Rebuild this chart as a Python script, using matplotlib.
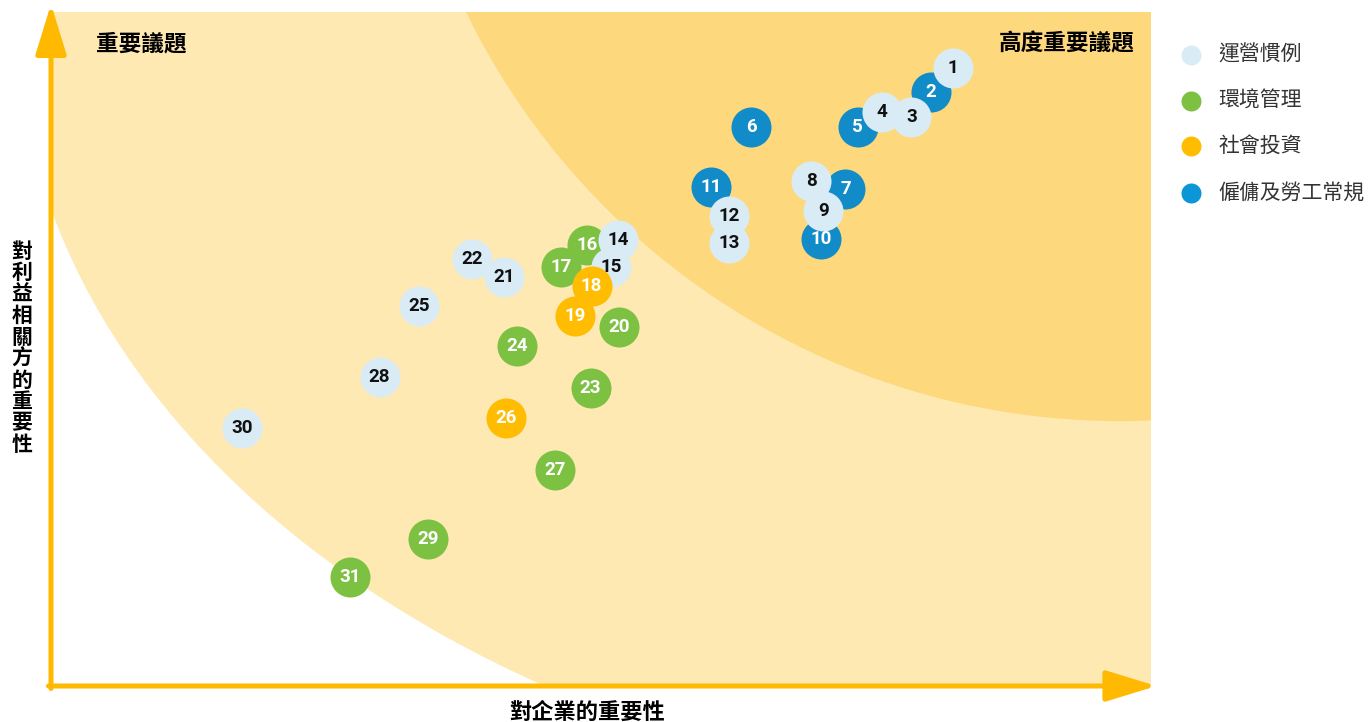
import matplotlib
matplotlib.use('Agg')
import matplotlib.pyplot as plt
from matplotlib.patches import Ellipse

plt.rcParams['font.family'] = ['Noto Sans CJK TC', 'DejaVu Sans']

# materiality topics: importance to business (x) and to stakeholders (y), 0-100
topics = list(range(1, 32))
biz = [82.0, 80.0, 78.2, 75.5, 73.3, 63.6, 72.2, 69.1, 70.2, 70.0,
       60.0, 61.6, 61.6, 51.5, 50.9, 48.7, 46.3, 49.1, 47.6, 51.6,
       41.1, 38.2, 49.0, 42.3, 33.4, 41.3, 45.8, 29.8, 34.2, 17.3, 27.1]
stake = [91.7, 88.1, 84.4, 85.2, 82.9, 82.9, 73.7, 74.9, 70.5, 66.3,
         74.0, 69.7, 65.7, 66.2, 62.2, 65.4, 62.2, 59.3, 54.9, 53.3,
         60.7, 63.4, 44.2, 50.4, 56.4, 39.8, 32.0, 45.8, 21.8, 38.3, 16.2]
# 0 運營慣例, 1 環境管理, 2 社會投資, 3 僱傭及勞工常規
cats = [0, 3, 0, 0, 3, 3, 3, 0, 0, 3,
        3, 0, 0, 0, 0, 1, 1, 2, 2, 1,
        0, 0, 1, 1, 0, 2, 1, 0, 1, 0, 1]

cat_names = ['運營慣例', '環境管理', '社會投資', '僱傭及勞工常規']
cat_colors = ['#d9ecf5', '#7dc142', '#ffbc00', '#128bc9']
legend_colors = ['#d9ecf5', '#7dc142', '#ffbc00', '#0a96d7']
num_colors = ['#111111', 'white', 'white', 'white']
draw_order = [1, 3, 0, 2]

W, H = 1371, 722
fig = plt.figure(figsize=(W / 100, H / 100), dpi=100)
ax = fig.add_axes([52 / W, 36 / H, 1099 / W, 674 / H])
ax.set_xlim(0, 100)
ax.set_ylim(0, 100)
ax.axis('off')

# zones
ax.add_patch(Ellipse((99.9, 100), 2 * 103.2, 2 * 118.25, color='#fee9b3', lw=0, zorder=0))
ax.add_patch(Ellipse((97.2, 147.2), 2 * 66.2, 2 * 107.9, color='#fdd87c', lw=0, zorder=1))

# axis arrows
arr = dict(arrowstyle='-|>,head_length=31,head_width=9.5', mutation_scale=1,
           color='#ffb900', lw=3.6, shrinkA=0, shrinkB=0)
ax.annotate('', xy=(-0.09, 101.2), xytext=(-0.09, -0.37), arrowprops=arr, annotation_clip=False)
ax.annotate('', xy=(100.5, 0), xytext=(-0.32, 0), arrowprops=arr, annotation_clip=False)

# topic bubbles
for k, c in enumerate(draw_order):
    idx = [i for i in range(len(topics)) if cats[i] == c]
    ax.scatter([biz[i] for i in idx], [stake[i] for i in idx], s=830,
               color=cat_colors[c], lw=0, zorder=3 + k)
    for i in idx:
        ax.text(biz[i], stake[i], str(topics[i]), ha='center', va='center',
                fontsize=13.5, fontweight='bold', color=num_colors[c],
                family=['Roboto', 'DejaVu Sans'], zorder=10)

# quadrant labels
fig.text(96 / W, 1 - 44 / H, '重要議題', fontsize=16.3, fontweight='bold', va='center')
fig.text(1134 / W, 1 - 44 / H, '高度重要議題', fontsize=16.3, fontweight='bold',
         va='center', ha='right')

# axis titles
fig.text(587 / W, 1 - 712 / H, '對企業的重要性', fontsize=16, fontweight='bold',
         ha='center', va='center')
for j, ch in enumerate('對利益相關方的重要性'):
    fig.text(22 / W, 1 - (251 + j * 21.5) / H, ch, fontsize=15, fontweight='bold',
             ha='center', va='center')

# legend
for j, name in enumerate(cat_names):
    yy = 1 - [55, 101, 146, 193][j] / H
    ax.plot([1191 / W], [yy], 'o', ms=14.4, mew=0, color=legend_colors[j],
            transform=fig.transFigure, clip_on=False)
    fig.text(1218 / W, yy, name, fontsize=15, color='#333333', va='center')

fig.savefig('out.png', dpi=100)
